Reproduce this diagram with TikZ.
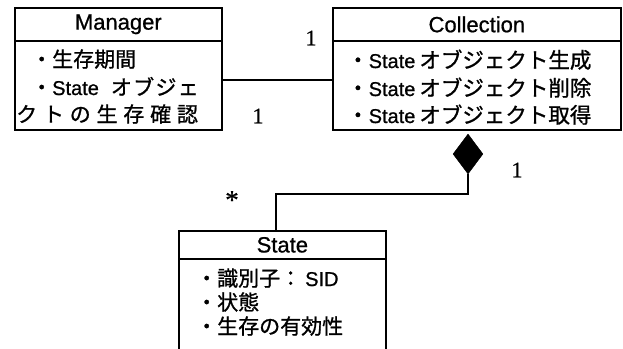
\documentclass[tikz,border=0pt]{standalone}
\usepackage{fontspec}
\setmainfont[FakeBold=0.8]{Liberation Sans}
\newfontfamily\jp[FakeBold=1]{Noto Sans CJK JP}
\newfontfamily\numf[FakeBold=0.8]{Liberation Serif}
\usetikzlibrary{shapes.geometric,calc}
\tikzset{
  umlbox/.style={draw,line width=1.7pt,inner sep=0pt,anchor=north west},
  headtxt/.style={font=\fontsize{22}{26}\selectfont},
  bodytxt/.style={inner sep=0pt,anchor=base west,font=\fontsize{20}{24}\selectfont},
  multlbl/.style={inner sep=0pt,font=\numf\fontsize{22}{26}\selectfont},
  conn/.style={line width=1.5pt},
}
\newcommand{\J}[1]{{\jp\fontsize{21}{24}\selectfont #1}}
\newcommand{\JL}[1]{{\jp\fontsize{21.5}{24}\selectfont #1}}
\begin{document}
\begin{tikzpicture}[x=1pt,y=-1pt]
\clip (0,0) rectangle (623,348);
\fill[white] (0,0) rectangle (623,348);
% Manager
\node[umlbox,headtxt,minimum width=207pt,minimum height=33pt] (mgrH) at (14,7) {Manager};
\node[umlbox,minimum width=207pt,minimum height=89pt] (mgrB) at (14,40) {};
\node[bodytxt] (m1) at (31,67) {\J{・生存期間}};
\node[bodytxt] (m2) at (31,95) {\J{・}State\hspace{12pt}\J{オ\hspace{1.3pt}ブ\hspace{1.3pt}ジ\hspace{1.3pt}ェ}};
\node[bodytxt] (m3) at (16,122) {\J{ク\hspace{5.8pt}ト\hspace{5.8pt}の\hspace{5.8pt}生\hspace{5.8pt}存\hspace{5.8pt}確\hspace{5.8pt}認}};
% Collection
\node[umlbox,headtxt,minimum width=288pt,minimum height=33pt] (colH) at (332,7) {Collection};
\node[umlbox,minimum width=288pt,minimum height=89pt] (colB) at (332,40) {};
\node[bodytxt] (c1) at (347,68) {\JL{・}State\hspace{4pt}\JL{オブジェクト生成}};
\node[bodytxt] (c2) at (347,96) {\JL{・}State\hspace{4pt}\JL{オブジェクト削除}};
\node[bodytxt] (c3) at (347,123) {\JL{・}State\hspace{4pt}\JL{オブジェクト取得}};
% State
\node[umlbox,headtxt,minimum width=207pt,minimum height=28pt] (stH) at (178,230) {State};
\node[umlbox,minimum width=207pt,minimum height=120pt] (stB) at (178,258) {};
\node[bodytxt] (s1) at (196,286) {\J{・識別子：}\hspace{4pt}SID};
\node[bodytxt] (s2) at (196,310) {\J{・状態}};
\node[bodytxt] (s3) at (196,334) {\J{・生存の有効性}};
% association
\draw[conn] ([yshift=5.5pt]mgrB.east) -- ([yshift=5.5pt]colB.west);
\node[multlbl] (l1a) at (311,38) {1};
\node[multlbl] (l1b) at (258,116) {1};
% composition
\node[draw,fill=black,shape=diamond,inner sep=0pt,minimum width=30pt,minimum height=40pt] (dia) at (468,154) {};
\draw[conn] (dia.south) -- ++(0,20) -| ([xshift=-6.5pt]stH.north);
\node[multlbl] (l1c) at (517,170) {1};
\node[multlbl,font=\numf\fontsize{27}{30}\selectfont] (star) at (232,200) {*};
\end{tikzpicture}
\end{document}
